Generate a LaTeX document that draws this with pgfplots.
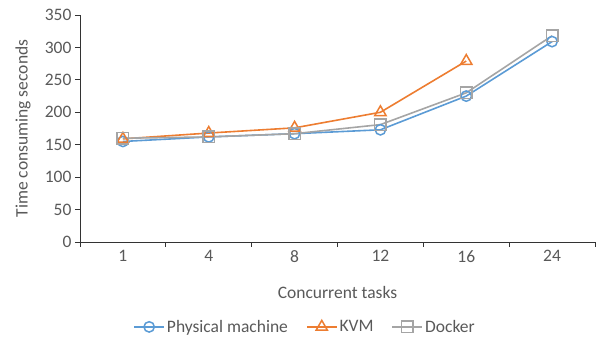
\documentclass[border=0pt]{standalone}
\usepackage{pgfplots}
\pgfplotsset{compat=1.18}
\usepackage{fontspec}
\setmainfont{Carlito}
\definecolor{cblue}{HTML}{5B9BD5}
\definecolor{corange}{HTML}{ED7D31}
\definecolor{cgray}{HTML}{A5A5A5}
\definecolor{ctext}{HTML}{595959}
\begin{document}
\begin{tikzpicture}
\useasboundingbox (-80pt,-105pt) rectangle (517pt,242pt);
\begin{axis}[
  at={(0pt,0pt)}, anchor=south west,
  scale only axis, width=515pt, height=227pt,
  xmin=0.5, xmax=6.5, ymin=0, ymax=350,
  axis x line=bottom, axis y line=left,
  axis line style={-, black!80, line width=0.8pt},
  xtick={1,2,3,4,5,6},
  xticklabels={1,4,8,12,16,24},
  major x tick style={draw=none},
  minor xtick={0.5,1.5,2.5,3.5,4.5,5.5,6.5},
  minor x tick style={black!80, line width=0.8pt},
  minor tick length=5pt,
  ytick={0,50,...,350},
  major tick length=5pt,
  y tick style={black!80, line width=0.8pt},
  tick align=outside,
  /pgf/number format/assume math mode=true,
  tick label style={font=\fontsize{17.5}{21}\selectfont, text=ctext},
  label style={font=\fontsize{17.5}{21}\selectfont, text=ctext},
  xlabel={Concurrent tasks},
  ylabel={Time consuming seconds},
  xlabel style={at={(axis description cs:0.5,0)}, anchor=center, yshift=-50pt},
  ylabel style={at={(axis description cs:0,0.5)}, anchor=center, yshift=57pt},
  legend columns=3,
  legend style={draw=none, fill=none, at={(0.437,-0.374)}, anchor=center,
    font=\fontsize{17.5}{21}\selectfont, text=ctext,
    /tikz/every even column/.append style={column sep=16pt}},
  legend image code/.code={
    \draw[#1, mark repeat=2, mark phase=2] plot coordinates {(0pt,0pt) (15pt,0pt) (30pt,0pt)};
  },
  every axis plot/.append style={line width=1.6pt, mark options={fill=white, solid, line width=1.5pt}},
]
\addplot[cblue, mark=o, mark size=5.2pt] coordinates {(1,155) (2,162) (3,167) (4,173) (5,225) (6,309)};
\addlegendentry{Physical machine}
\addplot[corange, mark=triangle, mark size=6.5pt] coordinates {(1,159) (2,168) (3,176) (4,200) (5,279)};
\addlegendentry{KVM}
\addplot[cgray, mark=square, mark size=5.8pt] coordinates {(1,160) (2,162) (3,167) (4,181) (5,230) (6,318)};
\addlegendentry{Docker}
\end{axis}
\end{tikzpicture}
\end{document}
